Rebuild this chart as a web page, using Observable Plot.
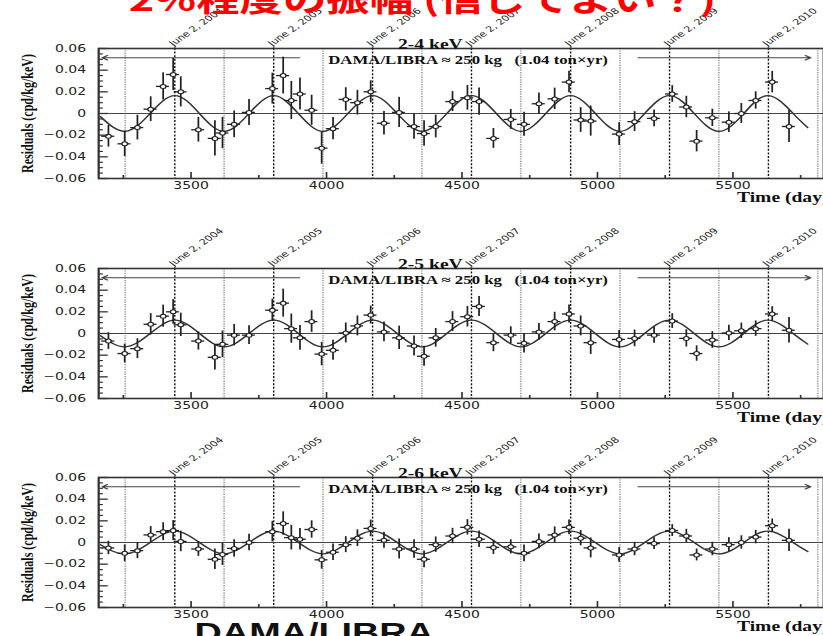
<!DOCTYPE html>
<html>
<head>
<meta charset="utf-8">
<script src="https://cdn.jsdelivr.net/npm/d3@7"></script>
<script src="https://cdn.jsdelivr.net/npm/@observablehq/plot@0.6"></script>
<style>
  html, body { margin: 0; padding: 0; background: #fff; overflow: hidden; width: 823px; height: 636px; }
  #stage { position: relative; width: 588px; height: 636px; transform: scaleX(1.39966); transform-origin: 0 0; }
  #stage > svg { position: absolute; left: 0; }
  .title { position: absolute; white-space: nowrap; line-height: 1; }
</style>
</head>
<body>
<div id="stage"></div>
<script>
// ---- data ----
const days = [3195, 3255, 3302, 3351, 3397, 3434, 3462, 3527, 3588, 3616, 3659, 3714, 3800, 3840, 3870, 3902, 3945, 3982, 4024, 4071, 4114, 4163, 4212, 4268, 4323, 4360, 4403, 4465, 4520, 4563, 4616, 4680, 4729, 4784, 4842, 4895, 4938, 4975, 5080, 5137, 5209, 5276, 5328, 5366, 5424, 5485, 5531, 5584, 5645, 5707];
const xHalf = 24;

const res24 = [-0.021, -0.028, -0.013, 0.004, 0.025, 0.036, 0.020, -0.015, -0.023, -0.018, -0.010, 0.001, 0.023, 0.035, 0.012, 0.018, 0.003, -0.032, -0.014, 0.013, 0.010, 0.020, -0.009, 0.001, -0.012, -0.0185, -0.012, 0.011, 0.0145, 0.011, -0.023, -0.0055, -0.010, 0.009, 0.0135, 0.029, -0.006, -0.007, -0.019, -0.0075, -0.0045, 0.018, 0.006, -0.0255, -0.004, -0.008, 0.000, 0.012, 0.029, -0.012];
const err24 = [0.010, 0.0117, 0.0114, 0.0114, 0.0126, 0.0148, 0.0139, 0.0114, 0.0163, 0.0145, 0.0123, 0.012, 0.0142, 0.017, 0.0176, 0.0148, 0.0139, 0.0148, 0.0102, 0.0108, 0.0114, 0.0102, 0.0108, 0.0139, 0.0117, 0.0117, 0.0105, 0.0092, 0.0114, 0.0126, 0.0092, 0.0092, 0.0111, 0.0099, 0.0099, 0.0099, 0.0114, 0.0139, 0.0105, 0.0092, 0.0077, 0.0077, 0.0099, 0.0099, 0.008, 0.0095, 0.0092, 0.008, 0.0099, 0.0148];

const res25 = [-0.007, -0.0185, -0.014, 0.0085, 0.016, 0.020, 0.008, -0.007, -0.022, -0.010, -0.0015, -0.0015, 0.0215, 0.028, 0.0045, -0.004, 0.011, -0.019, -0.0155, 0.0005, 0.007, 0.017, 0.0015, -0.004, -0.0115, -0.021, -0.004, 0.011, 0.0155, 0.025, -0.0085, -0.0015, -0.009, 0.0015, 0.011, 0.018, 0.007, -0.0085, -0.0055, -0.0045, -0.0015, 0.0115, -0.0045, -0.0185, -0.006, 0.0005, 0.0025, 0.0045, 0.018, 0.003];
const err25 = [0.0077, 0.0086, 0.0092, 0.0099, 0.0102, 0.0114, 0.0108, 0.0083, 0.0117, 0.0123, 0.0099, 0.0086, 0.0102, 0.0129, 0.0135, 0.0114, 0.0099, 0.0108, 0.0092, 0.0092, 0.0092, 0.0083, 0.0092, 0.0108, 0.0092, 0.0092, 0.0086, 0.0092, 0.0095, 0.0092, 0.0083, 0.0077, 0.0089, 0.0077, 0.0086, 0.0083, 0.0092, 0.0108, 0.0083, 0.0077, 0.0074, 0.0068, 0.008, 0.0071, 0.0077, 0.0071, 0.0071, 0.0071, 0.0068, 0.0117];

const res26 = [-0.005, -0.010, -0.0075, 0.007, 0.010, 0.011, 0.001, -0.006, -0.0155, -0.011, -0.0055, 0.000, 0.010, 0.0175, 0.0045, 0.003, 0.012, -0.016, -0.009, -0.002, 0.004, 0.013, 0.002, -0.006, -0.006, -0.0155, -0.002, 0.006, 0.014, 0.003, -0.0045, -0.004, -0.010, 0.001, 0.007, 0.014, 0.004, -0.005, -0.0115, -0.006, -0.001, 0.011, 0.006, -0.0115, -0.006, -0.002, 0.000, 0.005, 0.0155, 0.002];
const err26 = [0.0062, 0.0077, 0.0074, 0.0077, 0.0083, 0.0092, 0.0095, 0.0068, 0.0095, 0.0102, 0.008, 0.0077, 0.0095, 0.0108, 0.0114, 0.0099, 0.008, 0.0086, 0.0077, 0.0074, 0.0077, 0.0077, 0.0074, 0.0092, 0.0086, 0.0077, 0.0071, 0.0071, 0.0071, 0.0077, 0.0065, 0.0065, 0.0077, 0.0068, 0.0074, 0.0068, 0.0071, 0.0092, 0.0068, 0.0062, 0.0055, 0.0055, 0.0062, 0.0055, 0.0062, 0.0065, 0.0062, 0.0062, 0.0062, 0.0102];

// modulation curve (quarter-period points)
const fitDays = [3166, 3257, 3349, 3440, 3531, 3622, 3714, 3805, 3896, 3987, 4079, 4170, 4261, 4353, 4444, 4535, 4627, 4718, 4809, 4901, 4992, 5083, 5174, 5266, 5357, 5448, 5540, 5631, 5722, 5776];
const fit24 = [-0.003, -0.0165, 0, 0.0165, 0, -0.0165, 0, 0.0165, 0, -0.0165, 0, 0.0165, 0, -0.0165, 0, 0.0165, 0, -0.0165, 0, 0.0165, 0, -0.0165, 0, 0.0165, 0, -0.0165, 0, 0.0165, 0, -0.013];
const fit25 = [-0.002, -0.0123, 0, 0.0123, 0, -0.0123, 0, 0.0123, 0, -0.0123, 0, 0.0123, 0, -0.0123, 0, 0.0123, 0, -0.0123, 0, 0.0123, 0, -0.0123, 0, 0.0123, 0, -0.0123, 0, 0.0123, 0, -0.0098];
const fit26 = [-0.002, -0.0105, 0, 0.0105, 0, -0.0105, 0, 0.0105, 0, -0.0105, 0, 0.0105, 0, -0.0105, 0, 0.0105, 0, -0.0105, 0, 0.0105, 0, -0.0105, 0, 0.0105, 0, -0.0105, 0, 0.0105, 0, -0.0084];

const june2Days = [3440, 3805, 4170, 4535, 4901, 5266, 5631];
const june2Labels = ["June 2, 2004", "June 2, 2005", "June 2, 2006", "June 2, 2007", "June 2, 2008", "June 2, 2009", "June 2, 2010"];
const cycleDays = [3257, 3622, 3987, 4352, 4717, 5083, 5448, 5813];
const arrowFrom = [3900, 5150];
const arrowTo = [3172, 5787];
const arrowLevel = 0.0515;

const xTicksMajor = [3500, 4000, 4500, 5000, 5500];
const xTicksMinor = [3250, 3750, 4250, 4750, 5250, 5750];
const yTicksMajor = [-0.06, -0.04, -0.02, 0, 0.02, 0.04, 0.06];
const yTicksMinor = [-0.055, -0.05, -0.045, -0.035, -0.03, -0.025, -0.015, -0.01, -0.005, 0.005, 0.01, 0.015, 0.025, 0.03, 0.035, 0.045, 0.05, 0.055];

const panelTitles = ["2-4 keV", "2-5 keV", "2-6 keV"];
const expLabel = "DAMA/LIBRA \u2248 250 kg\u00a0\u00a0\u00a0(1.04 ton\u00d7yr)";
const xLabel = "Time (day)";
const yLabel = "Residuals (cpd/kg/keV)";
const headline = "2%程度の振幅 (信じてよい？)";
const footer = "DAMA/LIBRA";

// ---- layout ----
const W = 588, H = 208, MT = 48, MB = 30, ML = 70, MR = 0;
const FW = W - ML - MR, FH = H - MT - MB;
const xDomain = [3159, 5835];
const serif = "'Liberation Serif', 'DejaVu Serif', serif";
const fmtY = d => d === 0 ? "0" : (d < 0 ? "\u2212" : "") + Math.abs(d).toFixed(2);

function panel(vals, errs, fit, title) {
  const rows = days.map((d, i) => ({day: d, v: vals[i], e: errs[i]}));
  const fitRows = fitDays.map((d, i) => ({day: d, v: fit[i]}));
  const arrows = arrowFrom.map((d, i) => ({a: d, b: arrowTo[i]}));
  return Plot.plot({
    width: W, height: H,
    marginTop: MT, marginBottom: MB, marginLeft: ML, marginRight: MR,
    x: {domain: xDomain},
    y: {domain: [-0.06, 0.06]},
    style: {background: "transparent", fontFamily: "'DejaVu Sans', sans-serif", fontSize: "10px", color: "#222"},
    marks: [
      Plot.ruleX(cycleDays, {x: d => d, stroke: "#9a9a9a", strokeDasharray: "1.2,1.2", strokeWidth: 1.2}),
      Plot.ruleX(june2Days, {x: d => d, stroke: "#111", strokeDasharray: "2,1.6", strokeWidth: 1.0}),
      Plot.ruleY([0], {stroke: "#444", strokeWidth: 1.2}),
      Plot.arrow(arrows, {x1: "a", x2: "b", y1: () => arrowLevel, y2: () => arrowLevel, stroke: "#444", strokeWidth: 1.1, headLength: 6}),
      Plot.line(fitRows, {x: "day", y: "v", curve: "natural", stroke: "#333", strokeWidth: 1.3}),
      Plot.ruleY(rows, {y: "v", x1: d => d.day - xHalf, x2: d => d.day + xHalf, stroke: "#222", strokeWidth: 1.3}),
      Plot.ruleX(rows, {x: "day", y1: d => d.v - d.e, y2: d => d.v + d.e, stroke: "#222", strokeWidth: 1.25}),
      Plot.dot(rows, {x: "day", y: "v", r: 2, fill: "white", stroke: "#222", strokeWidth: 1}),
      Plot.ruleX(xTicksMajor, {x: d => d, insetTop: FH - 6, stroke: "#333", strokeWidth: 1.2}),
      Plot.ruleX(xTicksMinor, {x: d => d, insetTop: FH - 3, stroke: "#333", strokeWidth: 1.2}),
      Plot.ruleY(yTicksMajor, {y: d => d, insetRight: FW - 7, stroke: "#333", strokeWidth: 1.3}),
      Plot.ruleY(yTicksMinor, {y: d => d, insetRight: FW - 3.5, stroke: "#333", strokeWidth: 1.2}),
      Plot.axisX({ticks: xTicksMajor, tickSize: 0, tickPadding: 3, tickFormat: d => String(d), label: null, fill: "#222"}),
      Plot.axisY({ticks: yTicksMajor, tickSize: 0, tickPadding: 9, tickFormat: fmtY, label: null, fill: "#222"}),
      Plot.frame({stroke: "#333", strokeWidth: 1.6}),
      Plot.text(june2Days, {x: d => d, text: (d, i) => june2Labels[i], frameAnchor: "top", rotate: -44, textAnchor: "start", lineAnchor: "bottom", dx: -1, dy: -2, fontSize: 8, fill: "#222"}),
      Plot.text([title], {frameAnchor: "top", dx: -22, dy: -9, fontFamily: serif, fontWeight: "bold", fontSize: 14, fill: "#111"}),
      Plot.text([expLabel], {frameAnchor: "top-left", textAnchor: "start", dx: 164, dy: 7, fontFamily: serif, fontWeight: "bold", fontSize: 12, fill: "#111"}),
      Plot.text([xLabel], {frameAnchor: "bottom-right", textAnchor: "start", dx: -62, dy: 23, fontFamily: serif, fontWeight: "bold", fontSize: 14, fill: "#111"}),
      Plot.text([yLabel], {frameAnchor: "left", rotate: -90, textAnchor: "middle", dx: -51, fontFamily: serif, fontWeight: "bold", fontSize: 12, fill: "#111"})
    ]
  });
}

const stage = document.getElementById("stage");
const tops = [0, 220, 429];
[[res24, err24, fit24], [res25, err25, fit25], [res26, err26, fit26]].forEach(([v, e, f], i) => {
  const svg = panel(v, e, f, panelTitles[i]);
  svg.style.top = tops[i] + "px";
  stage.appendChild(svg);
});

const t = document.createElement("div");
t.className = "title";
t.textContent = headline;
Object.assign(t.style, {left: "92px", top: "-18.5px", fontSize: "31px", fontWeight: "bold", color: "#ff0000", fontFamily: "'Noto Sans CJK JP', sans-serif"});
stage.appendChild(t);

const f = document.createElement("div");
f.className = "title";
f.textContent = footer;
Object.assign(f.style, {left: "139px", top: "620px", fontSize: "27px", fontWeight: "bold", color: "#111", fontFamily: "'Liberation Sans', Arial, sans-serif"});
stage.appendChild(f);
</script>
</body>
</html>
